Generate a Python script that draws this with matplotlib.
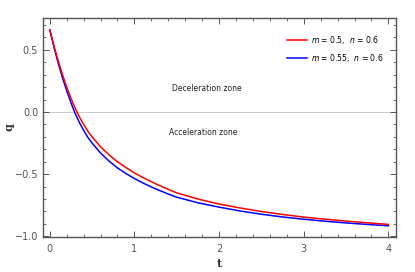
import matplotlib
matplotlib.use('Agg')
import matplotlib.pyplot as plt
from matplotlib.ticker import MultipleLocator

# values
t_vals = [0.0, 0.05, 0.1, 0.15, 0.2, 0.25, 0.3, 0.35, 0.4, 0.45, 0.5, 0.6, 0.7, 0.8, 0.9,
          1.0, 1.1, 1.25, 1.4, 1.5, 1.75, 2.0, 2.25, 2.5, 2.75, 3.0, 3.25, 3.5, 3.75, 4.0]
q_red = [0.66, 0.53, 0.41, 0.30, 0.20, 0.11, 0.03, -0.04, -0.10, -0.155, -0.20, -0.28,
         -0.345, -0.40, -0.447, -0.49, -0.527, -0.577, -0.622, -0.65, -0.70, -0.74, -0.772,
         -0.80, -0.824, -0.845, -0.862, -0.877, -0.891, -0.904]
q_blue = [0.66, 0.52, 0.39, 0.275, 0.17, 0.075, -0.012, -0.085, -0.148, -0.205, -0.25, -0.33,
          -0.395, -0.45, -0.495, -0.535, -0.571, -0.618, -0.66, -0.685, -0.73, -0.765, -0.796,
          -0.822, -0.844, -0.862, -0.878, -0.892, -0.904, -0.915]
labels = [r'$m$ = 0.5,  $n$ = 0.6', r'$m$ = 0.55,  $n$ = 0.6']

gray = '#555555'

fig = plt.figure(figsize=(4.15, 2.72), dpi=100)
ax = fig.add_axes([43/415, 35/272, 353/415, 219/272])

ax.axhline(0, color='#cccccc', lw=0.8, zorder=1)
ax.plot(t_vals, q_red, color='#ff0000', lw=1.1, label=labels[0], zorder=3)
ax.plot(t_vals, q_blue, color='#0000ff', lw=1.1, label=labels[1], zorder=2)

ax.set_xlim(-0.08, 4.09)
ax.set_ylim(-1.005, 0.755)

ax.xaxis.set_major_locator(MultipleLocator(1))
ax.xaxis.set_minor_locator(MultipleLocator(0.2))
ax.yaxis.set_major_locator(MultipleLocator(0.5))
ax.yaxis.set_minor_locator(MultipleLocator(0.1))
ax.tick_params(which='both', direction='in', top=True, right=True, colors=gray,
               labelsize=7, labelcolor=gray)
ax.tick_params(which='major', length=4, width=0.7)
ax.tick_params(which='minor', length=2, width=0.6)
ax.tick_params(axis='x', pad=5)
ax.set_yticks([-1.0, -0.5, 0.0, 0.5])
ax.set_yticklabels(['\u22121.0', '\u22120.5', '0.0', '0.5'])
for s in ax.spines.values():
    s.set_color(gray)
    s.set_linewidth(1.0)

ax.set_xlabel('t', fontsize=8, fontweight='bold', family='DejaVu Serif', color='#333333', labelpad=3)
# y label placed by hand so it stays inside the figure
fig.text(9/415, 1 - 127/272, 'q', fontsize=8, fontweight='bold', family='DejaVu Serif',
         color='#333333', rotation=90, ha='center', va='center')

ax.text(1.86, 0.186, 'Deceleration zone', fontsize=5.5, ha='center', va='center', color='#222222')
ax.text(1.81, -0.166, 'Acceleration zone', fontsize=5.5, ha='center', va='center', color='#222222')

ax.legend(loc='upper right', bbox_to_anchor=(0.985, 0.96), frameon=False, fontsize=5.5,
          handlelength=2.6, handletextpad=0.6, labelspacing=0.8)

fig.savefig('out.png', dpi=100)
